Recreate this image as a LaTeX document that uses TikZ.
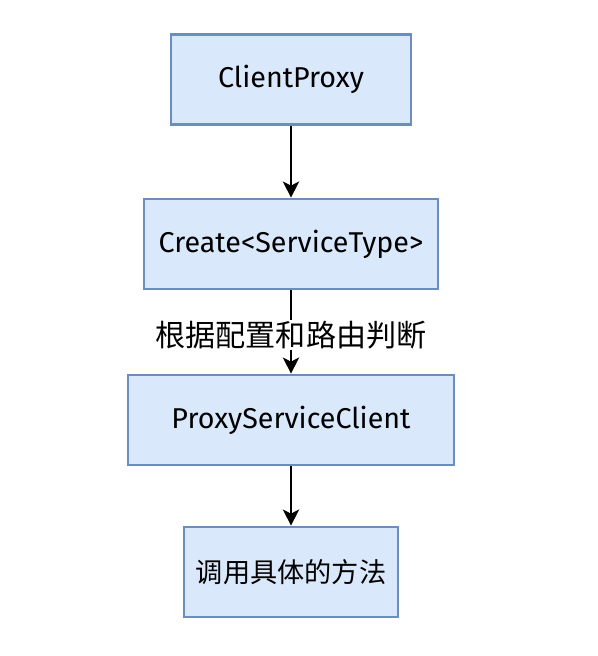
\documentclass[tikz,border=0pt]{standalone}
\usepackage{fontspec}
\setmainfont{Fira Sans}
\newfontfamily\cjk{Noto Sans CJK SC}
\usetikzlibrary{arrows.meta}
\definecolor{boxfill}{HTML}{DAE8FC}
\definecolor{boxline}{HTML}{6C8EBF}

\begin{document}
\begin{tikzpicture}[x=0.75pt,y=-0.75pt,
    box/.style = {draw=boxline, fill=boxfill, line width=2pt, minimum height=67.5pt, font=\fontsize{21.5}{24}\selectfont},
    flow/.style = {-{Stealth[length=12pt,width=12pt,inset=3pt]}, line width=2.2pt}]
                        \useasboundingbox (0,0) rectangle (597,656);

                        \node[box, minimum width=180pt] (proxy) at (291,79.5) {ClientProxy};
                        \node[box, minimum width=220.5pt] (create) at (291,244) {Create<ServiceType>};
                        \node[box, minimum width=244.5pt] (client) at (291,420) {ProxyServiceClient};
                        \node[box, minimum width=160.5pt, font=\cjk\fontsize{20.4}{22}\selectfont] (call) at (291,572) {调用具体的方法};

                        \draw[flow] (proxy) -- (create);
                        \draw[flow] (create) -- (client);
                        \draw[flow] (client) -- (call);

                        \node[fill=white, inner sep=1pt, font=\cjk\fontsize{22.6}{24}\selectfont] (route) at (291,335) {根据配置和路由判断};
                    \end{tikzpicture}
\end{document}
